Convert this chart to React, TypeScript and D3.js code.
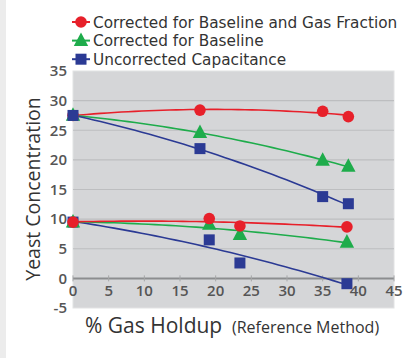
import React from "react";
import * as d3 from "d3";

// Gas holdup (%) for each sample, and measured yeast concentration per method
const highX = [0, 17.8, 35, 38.6];
const highBaseGas = [27.5, 28.4, 28.2, 27.3];
const highBase = [27.5, 24.6, 19.9, 18.9];
const highRaw = [27.5, 21.9, 13.8, 12.6];

const lowX = [0, 19.1, 23.4, 38.4];
const lowBaseGas = [9.5, 10.1, 8.85, 8.7];
const lowBase = [9.5, 9.1, 7.4, 6.1];
const lowRaw = [9.5, 6.5, 2.6, -0.9];

const xTicks = [0, 5, 10, 15, 20, 25, 30, 35, 40, 45];
const yTicks = [-5, 0, 5, 10, 15, 20, 25, 30, 35];

const seriesNames = [
  "Corrected for Baseline and Gas Fraction",
  "Corrected for Baseline",
  "Uncorrected Capacitance",
];
const seriesColors = ["#e7202a", "#1eac4b", "#2b3a94"];
const seriesShapes = ["circle", "triangle", "square"];

const W = 404;
const H = 358;
const plot = { left: 73, right: 394, top: 71, bottom: 308 };
const font = "'Open Sans', 'DejaVu Sans', sans-serif";
const legendFont = "'DejaVu Sans', sans-serif";

const x = d3.scaleLinear().domain([0, 45]).range([plot.left, plot.right]);
const y = d3.scaleLinear().domain([-5, 35]).range([plot.bottom, plot.top]);

// Least-squares quadratic trend through a series
function quadFit(xs: number[], ys: number[]) {
  const n = xs.length;
  let s0 = n, s1 = 0, s2 = 0, s3 = 0, s4 = 0, t0 = 0, t1 = 0, t2 = 0;
  for (let i = 0; i < n; i++) {
    const a = xs[i], b = ys[i];
    s1 += a; s2 += a * a; s3 += a * a * a; s4 += a * a * a * a;
    t0 += b; t1 += a * b; t2 += a * a * b;
  }
  const M = [
    [s0, s1, s2, t0],
    [s1, s2, s3, t1],
    [s2, s3, s4, t2],
  ];
  for (let c = 0; c < 3; c++) {
    for (let r = c + 1; r < 3; r++) {
      const f = M[r][c] / M[c][c];
      for (let k = c; k < 4; k++) M[r][k] -= f * M[c][k];
    }
  }
  const coef = [0, 0, 0];
  for (let r = 2; r >= 0; r--) {
    let s = M[r][3];
    for (let k = r + 1; k < 3; k++) s -= M[r][k] * coef[k];
    coef[r] = s / M[r][r];
  }
  return (v: number) => coef[0] + coef[1] * v + coef[2] * v * v;
}

function trendPath(xs: number[], ys: number[]) {
  const f = quadFit(xs, ys);
  const xmax = d3.max(xs) as number;
  const pts = d3.range(0, 41).map((i) => (xmax * i) / 40);
  return d3
    .line<number>()
    .x((v) => x(v))
    .y((v) => y(f(v)))
    .curve(d3.curveLinear)(pts) as string;
}

function Marker({ shape, cx, cy, color }: { shape: string; cx: number; cy: number; color: string }) {
  if (shape === "circle") return <circle cx={cx} cy={cy} r={5.8} fill={color} />;
  if (shape === "square") return <rect x={cx - 5.5} y={cy - 5.5} width={11} height={11} fill={color} />;
  const s = 7.2;
  return (
    <path
      d={`M${cx},${cy - s - 1}L${cx + s},${cy + s * 0.75}L${cx - s},${cy + s * 0.75}Z`}
      fill={color}
    />
  );
}

export default function App() {
  const high = [highBaseGas, highBase, highRaw];
  const low = [lowBaseGas, lowBase, lowRaw];
  const highOrder = [0, 1, 2];
  const lowOrder = [2, 1, 0];
  const y0 = y(0);

  return (
    <svg
      width={W}
      height={H}
      style={{ position: "absolute", left: 0, top: 0, background: "#ffffff" }}
    >
      <rect x={0} y={0} width={6} height={H} fill="#ececec" />

      {/* plot background */}
      <rect
        x={plot.left}
        y={plot.top}
        width={plot.right - plot.left}
        height={plot.bottom - plot.top}
        fill="#d5d6d8"
        stroke="#e2e3e4"
        strokeWidth={1}
      />
      {yTicks
        .filter((t) => t !== 0 && t !== -5 && t !== 35)
        .map((t) => (
          <line
            key={t}
            x1={plot.left}
            x2={plot.right}
            y1={y(t)}
            y2={y(t)}
            stroke="#bdbec0"
            strokeWidth={1.2}
          />
        ))}
      <line x1={plot.left} x2={plot.right} y1={y0} y2={y0} stroke="#8c8d8f" strokeWidth={2} />
      {xTicks.map((t) => (
        <line key={t} x1={x(t)} x2={x(t)} y1={y0 - 3} y2={y0 + 3} stroke="#a5a6a8" strokeWidth={1} />
      ))}

      {/* tick labels */}
      {yTicks.map((t) => (
        <text
          key={t}
          x={67}
          y={y(t)}
          dy="0.35em"
          textAnchor="end"
          fontFamily={font}
          fontWeight={600}
          fontSize={15}
          fill="#555"
        >
          {t}
        </text>
      ))}
      {xTicks.map((t) => (
        <text
          key={t}
          x={x(t)}
          y={y0 + 12}
          dy="0.35em"
          textAnchor="middle"
          fontFamily={font}
          fontWeight={600}
          fontSize={15}
          fill="#555"
        >
          {t}
        </text>
      ))}

      {/* trend lines */}
      {highOrder.map((i) => (
        <path key={"hl" + i} d={trendPath(highX, high[i])} fill="none" stroke={seriesColors[i]} strokeWidth={1.6} />
      ))}
      {lowOrder.map((i) => (
        <path key={"ll" + i} d={trendPath(lowX, low[i])} fill="none" stroke={seriesColors[i]} strokeWidth={1.6} />
      ))}

      {/* markers */}
      {highOrder.map((i) =>
        highX.map((v, j) => (
          <Marker key={`hm${i}-${j}`} shape={seriesShapes[i]} cx={x(v)} cy={y(high[i][j])} color={seriesColors[i]} />
        ))
      )}
      {lowOrder.map((i) =>
        lowX.map((v, j) => (
          <Marker key={`lm${i}-${j}`} shape={seriesShapes[i]} cx={x(v)} cy={y(low[i][j])} color={seriesColors[i]} />
        ))
      )}

      {/* legend */}
      {seriesNames.map((name, i) => {
        const ly = 22 + i * 18.6;
        return (
          <g key={name}>
            <line x1={72} x2={90} y1={ly} y2={ly} stroke={seriesColors[i]} strokeWidth={2} />
            <Marker shape={seriesShapes[i]} cx={81} cy={ly} color={seriesColors[i]} />
            <text x={93} y={ly} dy="0.36em" fontFamily={legendFont} fontSize={15.3} fill="#333">
              {name}
            </text>
          </g>
        );
      })}

      {/* axis titles */}
      <text
        transform={`translate(33,189) rotate(-90)`}
        textAnchor="middle"
        dy="0.35em"
        fontFamily={font}
        fontSize={19.5}
        fill="#333"
      >
        Yeast Concentration
      </text>
      <text x={85} y={326} dy="0.35em" fontFamily={font} fontSize={21} fill="#333">
        % Gas Holdup
      </text>
      <text x={232} y={327} dy="0.35em" fontFamily={font} fontSize={16} fill="#333">
        (Reference Method)
      </text>
    </svg>
  );
}
